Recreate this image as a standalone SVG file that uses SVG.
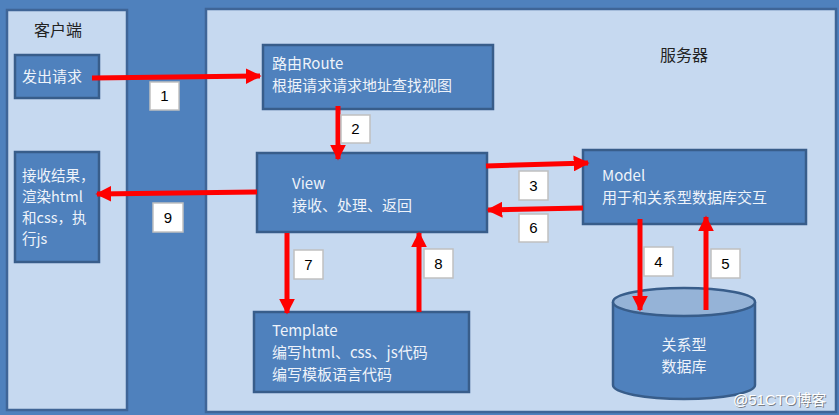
<svg xmlns="http://www.w3.org/2000/svg" width="839" height="415" viewBox="0 0 839 415">
  <defs>
    <style>
      .panel { fill: #c6d9f0; stroke: #3f6597; stroke-width: 2.5; }
      .node { fill: #4f81bd; stroke: #385d8a; stroke-width: 2.5; }
      .txt { font-family: "Noto Sans CJK SC", "Liberation Sans", sans-serif; font-size: 15px; fill: #eef3fa; }
      .small { font-size: 14.5px; }
      .title { font-family: "Noto Sans CJK SC", sans-serif; font-size: 16px; fill: #222; }
      .lbl rect { fill: #ffffff; stroke: #c0c0c0; stroke-width: 1.5; }
      .lbl text { font-family: "Liberation Sans", "Noto Sans", sans-serif; font-size: 15px; fill: #000; text-anchor: middle; }
      .arrow { stroke: #ff0000; stroke-width: 5; fill: none; marker-end: url(#head); }
    </style>
    <marker id="head" viewBox="0 0 10 10" refX="9" refY="5" markerWidth="3.2" markerHeight="3.2" orient="auto" markerUnits="strokeWidth">
      <path d="M0,0 L10,5 L0,10 Z" fill="#ff0000"/>
    </marker>
  </defs>

  <!-- backdrop -->
  <rect x="0" y="0" width="839" height="415" fill="#4f81bd"/>

  <!-- client side -->
  <g id="client">
    <rect class="panel" x="7" y="10" width="120" height="400"/>
    <text class="title" x="58" y="36" text-anchor="middle">客户端</text>
  </g>

  <!-- server side -->
  <g id="server">
    <rect class="panel" x="206" y="9" width="630" height="403"/>
    <text class="title" x="684" y="61" text-anchor="middle">服务器</text>
  </g>

  <g id="send-request">
    <rect class="node" x="15" y="55" width="84" height="43"/>
    <text class="txt" x="22" y="82" font-size="16">发出请求</text>
  </g>

  <g id="receive-result">
    <rect class="node" x="15" y="152" width="84" height="110"/>
    <text class="txt small" x="22" y="181">接收结果，</text>
    <text class="txt small" x="22" y="202">渲染html</text>
    <text class="txt small" x="22" y="223">和css，执</text>
    <text class="txt small" x="22" y="244">行js</text>
  </g>

  <g id="route">
    <rect class="node" x="263" y="45" width="230" height="64"/>
    <text class="txt" x="272" y="69">路由Route</text>
    <text class="txt" x="272" y="91">根据请求请求地址查找视图</text>
  </g>

  <g id="view">
    <rect class="node" x="257" y="153" width="230" height="79"/>
    <text class="txt" x="292" y="189">View</text>
    <text class="txt" x="292" y="211">接收、处理、返回</text>
  </g>

  <g id="model">
    <rect class="node" x="583" y="150" width="223" height="74"/>
    <text class="txt" x="602" y="181">Model</text>
    <text class="txt" x="602" y="203">用于和关系型数据库交互</text>
  </g>

  <g id="template">
    <rect class="node" x="254" y="312" width="215" height="80"/>
    <text class="txt" x="272" y="336">Template</text>
    <text class="txt" x="272" y="358">编写html、css、js代码</text>
    <text class="txt" x="272" y="380">编写模板语言代码</text>
  </g>

  <g id="database">
    <path d="M613,302 L613,385 A71,14 0 0 0 755,385 L755,302" fill="#4f81bd" stroke="#385d8a" stroke-width="2.5"/>
    <ellipse cx="684" cy="302" rx="71" ry="14" fill="#95b3d7" stroke="#385d8a" stroke-width="2.5"/>
    <text class="txt" x="684" y="350" text-anchor="middle">关系型</text>
    <text class="txt" x="684" y="372" text-anchor="middle">数据库</text>
  </g>

  <!-- connectors -->
  <g id="connectors">
    <line class="arrow" x1="92" y1="78" x2="260" y2="76"/>
    <line class="arrow" x1="338" y1="106" x2="338" y2="159"/>
    <line class="arrow" x1="486" y1="166" x2="588" y2="163"/>
    <line class="arrow" x1="583" y1="208" x2="488" y2="210"/>
    <line class="arrow" x1="640" y1="219" x2="640" y2="310"/>
    <line class="arrow" x1="706" y1="310" x2="706" y2="217"/>
    <line class="arrow" x1="287" y1="233" x2="287" y2="313"/>
    <line class="arrow" x1="419" y1="312" x2="419" y2="233"/>
    <line class="arrow" x1="257" y1="192" x2="97" y2="194"/>

    <g class="lbl"><rect x="150" y="82" width="29" height="28"/><text x="164.5" y="101">1</text></g>
    <g class="lbl"><rect x="341" y="115" width="29" height="28"/><text x="355.5" y="134">2</text></g>
    <g class="lbl"><rect x="519" y="171" width="29" height="29"/><text x="533.5" y="191">3</text></g>
    <g class="lbl"><rect x="644" y="247" width="29" height="29"/><text x="658.5" y="267">4</text></g>
    <g class="lbl"><rect x="711" y="249" width="29" height="29"/><text x="725.5" y="269">5</text></g>
    <g class="lbl"><rect x="519" y="214" width="29" height="28"/><text x="533.5" y="233">6</text></g>
    <g class="lbl"><rect x="294" y="250" width="29" height="29"/><text x="308.5" y="270">7</text></g>
    <g class="lbl"><rect x="424" y="249" width="29" height="29"/><text x="438.5" y="269">8</text></g>
    <g class="lbl"><rect x="153" y="203" width="30" height="29"/><text x="168" y="223">9</text></g>
  </g>

  <!-- site watermark -->
  <text x="733" y="405" font-family="Liberation Sans, Noto Sans CJK SC, sans-serif" font-size="15" fill="#5a5a5a" opacity="0.7" transform="translate(1,1)">@51CTO博客</text>
  <text x="733" y="405" font-family="Liberation Sans, Noto Sans CJK SC, sans-serif" font-size="15" fill="#ffffff">@51CTO博客</text>
</svg>
